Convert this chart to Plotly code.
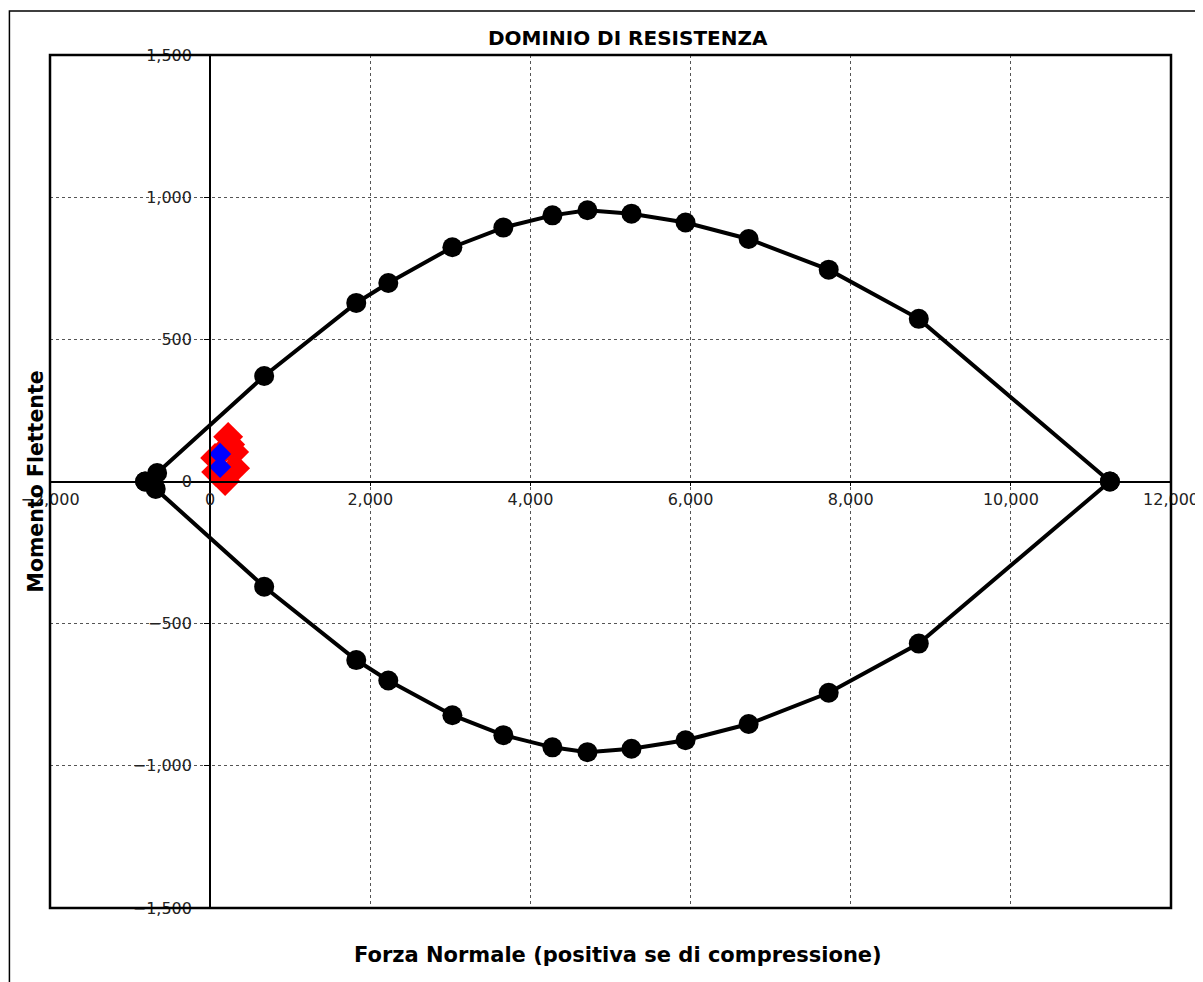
import plotly.graph_objects as go

# resistance domain (N, M) - upper and lower branch
n_upper = [-812, -662, 675, 1825, 2225, 3025, 3662, 4275, 4712, 5262, 5937, 6725, 7725, 8850, 11237]
m_upper = [0, 30, 371, 628, 698, 824, 893, 936, 954, 942, 911, 853, 745, 572, 0]
n_lower = [-812, -680, 675, 1825, 2225, 3025, 3662, 4275, 4712, 5262, 5937, 6725, 7725, 8850, 11237]
m_lower = [0, -26, -370, -628, -700, -822, -892, -935, -952, -940, -910, -853, -743, -570, 0]

# load combinations
n_sd = [225, 300, 62, 312, 75, 187, 250]
m_sd = [157, 104, 83, 47, 33, 2, 130]
n_sd_blue = [125, 125]
m_sd_blue = [97, 51]

fig = go.Figure()

fig.add_trace(go.Scatter(x=n_upper, y=m_upper, mode='lines+markers',
                         line=dict(color='black', width=4),
                         marker=dict(color='black', size=20, symbol='circle')))
fig.add_trace(go.Scatter(x=n_lower, y=m_lower, mode='lines+markers',
                         line=dict(color='black', width=4),
                         marker=dict(color='black', size=20, symbol='circle')))
fig.add_trace(go.Scatter(x=n_sd, y=m_sd, mode='markers',
                         marker=dict(color='#ff0000', size=23, symbol='diamond')))
fig.add_trace(go.Scatter(x=n_sd_blue, y=m_sd_blue, mode='markers',
                         marker=dict(color='#0000ff', size=17, symbol='diamond')))

fig.update_layout(
    width=1203, height=982,
    margin=dict(l=42, r=33, t=47, b=82),
    plot_bgcolor='white', paper_bgcolor='white',
    showlegend=False,
    font=dict(family='DejaVu Sans', color='black', size=16),
)

fig.update_xaxes(range=[-2000, 12000], dtick=2000, tickformat=',',
                 anchor='free', position=0.5,
                 showline=True, linecolor='black', linewidth=2,
                 ticks='outside', ticklen=3, tickcolor='black',
                 showgrid=True, gridcolor='#555', griddash='dot', gridwidth=1,
                 zeroline=False, tickfont=dict(size=16, color='#222'))
fig.update_yaxes(range=[-1500, 1500], dtick=500, tickformat=',',
                 anchor='free', position=1 / 7,
                 showline=True, linecolor='black', linewidth=2,
                 ticks='outside', ticklen=5, tickcolor='black', ticklabelstandoff=9,
                 showgrid=True, gridcolor='#555', griddash='dot', gridwidth=1,
                 zeroline=False, tickfont=dict(size=16, color='#222'))

# plot area frame and outer chart frame
fig.add_shape(type='rect', xref='paper', yref='paper', x0=0, x1=1, y0=0, y1=1,
              line=dict(color='black', width=2.5))
fig.add_shape(type='rect', xref='paper', yref='paper', x0=-0.0362, x1=1.2, y0=-0.3, y1=1.0516,
              line=dict(color='black', width=1.5))

fig.add_annotation(text='<b>DOMINIO DI RESISTENZA</b>', xref='paper', yref='paper',
                   x=0.516, xanchor='center', y=1.0, yanchor='bottom', yshift=3, showarrow=False,
                   font=dict(size=20, family='DejaVu Sans'))
fig.add_annotation(text='<b>Forza Normale (positiva se di compressione)</b>', xref='paper', yref='paper',
                   x=0.507, xanchor='center', y=-0.072, showarrow=False,
                   font=dict(size=21, family='DejaVu Sans'))
fig.add_annotation(text='<b>Momento Flettente</b>', xref='paper', yref='paper',
                   x=-0.0125, xanchor='center', y=0.5, textangle=-90, showarrow=False,
                   font=dict(size=20.5, family='DejaVu Sans'))

fig.write_html("out.html")
